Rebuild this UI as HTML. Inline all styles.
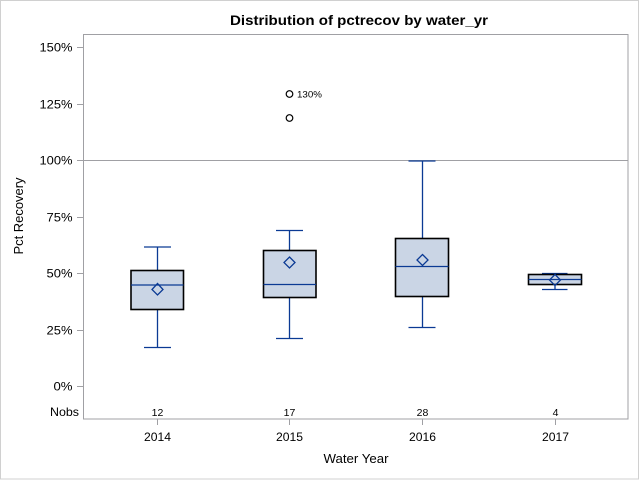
<!DOCTYPE html>
<html><head><meta charset="utf-8"><style>
html,body{margin:0;padding:0;background:#fff;}
svg{display:block;}
text{font-family:"Liberation Sans",Arial,sans-serif;fill:#000;}
</style></head><body>
<svg width="640" height="480" viewBox="0 0 640 480" xmlns="http://www.w3.org/2000/svg">
<rect x="0.5" y="0.5" width="638" height="478.5" fill="#fff" stroke="#d0d0d0" stroke-width="1"/>
<text x="359" y="25" font-size="14" font-weight="bold" text-anchor="middle" textLength="258" lengthAdjust="spacingAndGlyphs">Distribution of pctrecov by water_yr</text>
<!-- frame -->
<rect x="83.5" y="34.5" width="544.5" height="384.5" fill="none" stroke="#a0a0a4" stroke-width="1"/>
<!-- ref line -->
<line x1="83.5" y1="160.5" x2="628" y2="160.5" stroke="#a0a0a4" stroke-width="1"/>
<!-- y ticks -->
<g stroke="#a0a0a4" stroke-width="1">
<line x1="77" y1="47.5" x2="83.5" y2="47.5"/>
<line x1="77" y1="104.5" x2="83.5" y2="104.5"/>
<line x1="77" y1="160.5" x2="83.5" y2="160.5"/>
<line x1="77" y1="217.5" x2="83.5" y2="217.5"/>
<line x1="77" y1="273.5" x2="83.5" y2="273.5"/>
<line x1="77" y1="330.5" x2="83.5" y2="330.5"/>
<line x1="77" y1="386.5" x2="83.5" y2="386.5"/>
<line x1="157.5" y1="419" x2="157.5" y2="425"/>
<line x1="289.5" y1="419" x2="289.5" y2="425"/>
<line x1="422.5" y1="419" x2="422.5" y2="425"/>
<line x1="555.5" y1="419" x2="555.5" y2="425"/>
</g>
<g font-size="12" text-anchor="end">
<text x="72.5" y="51.5" textLength="33" lengthAdjust="spacingAndGlyphs">150%</text>
<text x="72.5" y="108.5" textLength="33" lengthAdjust="spacingAndGlyphs">125%</text>
<text x="72.5" y="164.5" textLength="33" lengthAdjust="spacingAndGlyphs">100%</text>
<text x="72.5" y="221.5" textLength="26" lengthAdjust="spacingAndGlyphs">75%</text>
<text x="72.5" y="277.5" textLength="26" lengthAdjust="spacingAndGlyphs">50%</text>
<text x="72.5" y="334.5" textLength="26" lengthAdjust="spacingAndGlyphs">25%</text>
<text x="72.5" y="390.5" textLength="19" lengthAdjust="spacingAndGlyphs">0%</text>
<text x="79" y="416" textLength="29" lengthAdjust="spacingAndGlyphs">Nobs</text>
</g>
<g font-size="10.5" text-anchor="middle">
<text x="157.5" y="416">12</text>
<text x="289.5" y="416">17</text>
<text x="422.5" y="416">28</text>
<text x="555.5" y="416">4</text>
</g>
<g font-size="12" text-anchor="middle">
<text x="157.5" y="441" textLength="27" lengthAdjust="spacingAndGlyphs">2014</text>
<text x="289.5" y="441" textLength="27" lengthAdjust="spacingAndGlyphs">2015</text>
<text x="422.5" y="441" textLength="27" lengthAdjust="spacingAndGlyphs">2016</text>
<text x="555.5" y="441" textLength="27" lengthAdjust="spacingAndGlyphs">2017</text>
<text x="356" y="463" font-size="13" textLength="65" lengthAdjust="spacingAndGlyphs">Water Year</text>
<text transform="translate(23,216) rotate(-90)" font-size="13" textLength="77" lengthAdjust="spacingAndGlyphs">Pct Recovery</text>
</g>
<!-- 2014 -->
<g stroke="#0b3a94" stroke-width="1.3" fill="none">
<line x1="157.5" y1="247" x2="157.5" y2="347.5"/>
<line x1="144" y1="247" x2="171" y2="247"/>
<line x1="144" y1="347.5" x2="171" y2="347.5"/>
</g>
<rect x="131" y="270.5" width="52.5" height="39" fill="#cad5e5" stroke="#000" stroke-width="1.6"/>
<line x1="131" y1="285" x2="183.5" y2="285" stroke="#0b3a94" stroke-width="1.3"/>
<polygon points="157.5,283.5 163,289.5 157.5,295 152,289.5" fill="none" stroke="#0b3a94" stroke-width="1.3"/>
<!-- 2015 -->
<g stroke="#0b3a94" stroke-width="1.3" fill="none">
<line x1="289.5" y1="230.5" x2="289.5" y2="338.5"/>
<line x1="276" y1="230.5" x2="303" y2="230.5"/>
<line x1="276" y1="338.5" x2="303" y2="338.5"/>
</g>
<rect x="263.5" y="250.5" width="52.5" height="47" fill="#cad5e5" stroke="#000" stroke-width="1.6"/>
<line x1="263.5" y1="284.5" x2="316" y2="284.5" stroke="#0b3a94" stroke-width="1.3"/>
<polygon points="289.5,257 295,262.5 289.5,268 284,262.5" fill="none" stroke="#0b3a94" stroke-width="1.3"/>
<circle cx="289.5" cy="94" r="3.3" fill="none" stroke="#000" stroke-width="1.2"/>
<circle cx="289.5" cy="118" r="3.3" fill="none" stroke="#000" stroke-width="1.2"/>
<text x="297" y="97.5" font-size="9.5" textLength="25" lengthAdjust="spacingAndGlyphs">130%</text>
<!-- 2016 -->
<g stroke="#0b3a94" stroke-width="1.3" fill="none">
<line x1="422.5" y1="161" x2="422.5" y2="327.5"/>
<line x1="408.5" y1="161" x2="435.5" y2="161"/>
<line x1="408.5" y1="327.5" x2="435.5" y2="327.5"/>
</g>
<rect x="395.5" y="238.5" width="53" height="58" fill="#cad5e5" stroke="#000" stroke-width="1.6"/>
<line x1="395.5" y1="266.5" x2="448.5" y2="266.5" stroke="#0b3a94" stroke-width="1.3"/>
<polygon points="422.5,254.5 428,260 422.5,265.5 417,260" fill="none" stroke="#0b3a94" stroke-width="1.3"/>
<!-- 2017 -->
<g stroke="#0b3a94" stroke-width="1.3" fill="none">
<line x1="555" y1="273.5" x2="555" y2="289.5"/>
<line x1="542" y1="273.5" x2="567.5" y2="273.5"/>
<line x1="542" y1="289.5" x2="567.5" y2="289.5"/>
</g>
<rect x="528.5" y="274.5" width="53" height="10" fill="#cad5e5" stroke="#000" stroke-width="1.6"/>
<line x1="528.5" y1="279.5" x2="581.5" y2="279.5" stroke="#0b3a94" stroke-width="1.3"/>
<polygon points="555,274.5 560.5,280 555,285.5 549.5,280" fill="none" stroke="#0b3a94" stroke-width="1.3"/>
</svg>
</body></html>
